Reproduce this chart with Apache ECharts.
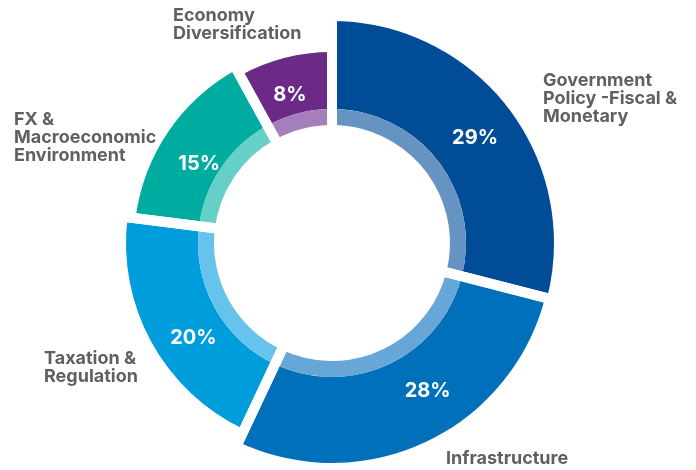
<!DOCTYPE html>
<html>
<head>
<meta charset="utf-8">
<script src="https://cdn.jsdelivr.net/npm/echarts@6/dist/echarts.min.js"></script>
<style>
  html, body { margin: 0; padding: 0; background: #fff; }
  #chart { width: 696px; height: 470px; }
</style>
</head>
<body>
<div id="chart"></div>
<script>
// Survey: share of respondents by priority area
const categories = [
  'Government\nPolicy -Fiscal &\nMonetary',
  'Infrastructure',
  'Taxation &\nRegulation',
  'FX &\nMacroeconomic\nEnvironment',
  'Economy\nDiversification'
];
const shares = [29, 28, 20, 15, 8];

// Styling
const darkColors  = ['#004c97', '#0070ba', '#009ddc', '#00ab9f', '#6b2a86'];
const lightColors = ['#6594c2', '#66a7d7', '#66c4ec', '#66cfc7', '#a47fbb'];
const ringOuter = [222, 220, 206, 198, 191];
const CENTER = [332, 243];
const HOLE = 118, BAND = 134;
const GAP = 10;
const labelFont = 'Inter, "Liberation Sans", Arial, sans-serif';
// top-left corner of each category caption
const captionPos = [[543, 72], [446, 450], [44, 350], [14, 111], [173, 7]];
// nudges for the percentage labels inside each slice
const pctNudge = [[0, 6], [19, -15], [13, 12], [7, 16], [-1, 12]];

const series = [];

// Outer dark band: one series per category so each gets its own radius
categories.forEach((name, i) => {
  series.push({
    type: 'pie',
    silent: true,
    z: 2,
    center: CENTER,
    radius: [BAND, ringOuter[i]],
    startAngle: 90,
    clockwise: true,
    avoidLabelOverlap: false,
    labelLine: { show: false },
    labelLayout: function (p) {
      const n = pctNudge[i];
      return { dx: n[0], dy: n[1] };
    },
    data: shares.map((v, j) => ({
      name: categories[j],
      value: v,
      itemStyle: { color: j === i ? darkColors[i] : 'rgba(0,0,0,0)' },
      label: {
        show: j === i,
        position: 'inside',
        formatter: '{c}%',
        color: '#fff',
        fontFamily: labelFont,
        fontWeight: 'bold',
        fontSize: 20
      }
    }))
  });
});

// Inner light band
series.push({
  type: 'pie',
  silent: true,
  z: 3,
  center: CENTER,
  radius: [HOLE, BAND],
  startAngle: 90,
  clockwise: true,
  label: { show: false },
  labelLine: { show: false },
  data: shares.map((v, j) => ({
    name: categories[j],
    value: v,
    itemStyle: { color: lightColors[j] }
  }))
});

// White separators between slices, plus category captions
series.push({
  type: 'pie',
  silent: true,
  z: 10,
  center: CENTER,
  radius: [0, 228],
  startAngle: 90,
  clockwise: true,
  avoidLabelOverlap: false,
  itemStyle: { color: 'rgba(0,0,0,0)', borderColor: '#fff', borderWidth: GAP },
  label: {
    show: true,
    position: 'outside',
    formatter: '{b}',
    color: '#606060',
    fontFamily: labelFont,
    fontWeight: 'bold',
    fontSize: 18,
    lineHeight: 18,
    align: 'left'
  },
  labelLine: { show: false },
  labelLayout: function (p) {
    const pos = captionPos[p.dataIndex];
    return { x: pos[0], y: pos[1], align: 'left', verticalAlign: 'top' };
  },
  data: shares.map((v, j) => ({ name: categories[j], value: v }))
});

const chart = echarts.init(document.getElementById('chart'), null, { renderer: 'canvas' });
chart.setOption({
  animation: false,
  backgroundColor: '#fff',
  series: series
});
</script>
</body>
</html>
